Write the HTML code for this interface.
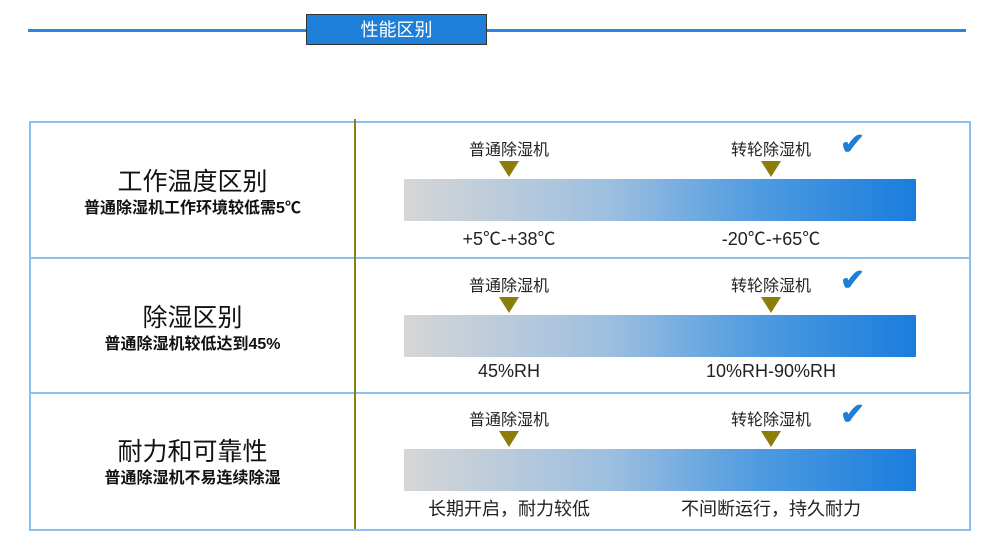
<!DOCTYPE html>
<html><head><meta charset="utf-8"><style>
body{margin:0;width:994px;height:554px;background:#fff;position:relative;overflow:hidden;font-family:"Liberation Sans","Noto Sans CJK SC",sans-serif;}
.a{position:absolute}
.line{left:28px;top:29px;width:938px;height:3px;background:#2a86dc}
.title{left:306px;top:14px;width:179px;height:29px;background:#1e7fd8;border:1px solid #333;color:#fff;font-size:18px;text-align:center;line-height:30px}
.table{left:29px;top:121px;width:938px;height:406px;border:2px solid #8cc0ee}
.row{position:absolute;left:29px;width:940px;height:2px;background:#8cc0ee}
.vdiv{left:354px;top:119px;width:2px;height:410px;background:#8a7f10}
.lt{position:absolute;left:31px;width:323px;text-align:center;color:#111}
.lt .h{font-size:25px;line-height:30px}
.lt .s{font-size:16px;font-weight:bold;line-height:24px}
.bar{position:absolute;left:404px;width:512px;height:42px;background:linear-gradient(to right,#d6d6d6,#9dbfe0 40%,#4d9ae0 70%,#1a7ddd)}
.lab{position:absolute;font-size:16px;color:#222;text-align:center;width:140px}
.val{position:absolute;font-size:18px;color:#222;text-align:center;width:200px}
.tri{position:absolute;width:0;height:0;border-left:10px solid transparent;border-right:10px solid transparent;border-top:16px solid #8a7d0a}
.chk{position:absolute;color:#1e7fd8;font-size:30px;font-weight:bold}
</style></head><body>
<div class="a line"></div>
<div class="a title">性能区别</div>
<div class="a table"></div>
<div class="row" style="top:257px"></div>
<div class="row" style="top:392px"></div>
<div class="a vdiv"></div>

<div class="lt" style="top:167px"><div class="h">工作温度区别</div><div class="s">普通除湿机工作环境较低需5℃</div></div>
<div class="lt" style="top:303px"><div class="h">除湿区别</div><div class="s">普通除湿机较低达到45%</div></div>
<div class="lt" style="top:437px"><div class="h">耐力和可靠性</div><div class="s">普通除湿机不易连续除湿</div></div>

<div id="rows"></div>
<script>
const tops=[179,315,449];
const vals=[["+5℃-+38℃","-20℃-+65℃"],["45%RH","10%RH-90%RH"],["长期开启，耐力较低","不间断运行，持久耐力"]];
const c=document.getElementById('rows');
tops.forEach((t,i)=>{
 let h='';
 h+=`<div class="bar" style="top:${t}px"></div>`;
 [[509,'普通除湿机'],[771,'转轮除湿机']].forEach(([x,n],j)=>{
  h+=`<div class="lab" style="left:${x-70}px;top:${t-43}px">${n}</div>`;
  h+=`<div class="tri" style="left:${x-10}px;top:${t-18}px"></div>`;
  h+=`<div class="val" style="left:${x-100}px;top:${t+46}px">${vals[i][j]}</div>`;
 });
 h+=`<div class="chk" style="left:840px;top:${t-52}px">✔</div>`;
 c.insertAdjacentHTML('beforeend',h);
});
</script>
</body></html>
